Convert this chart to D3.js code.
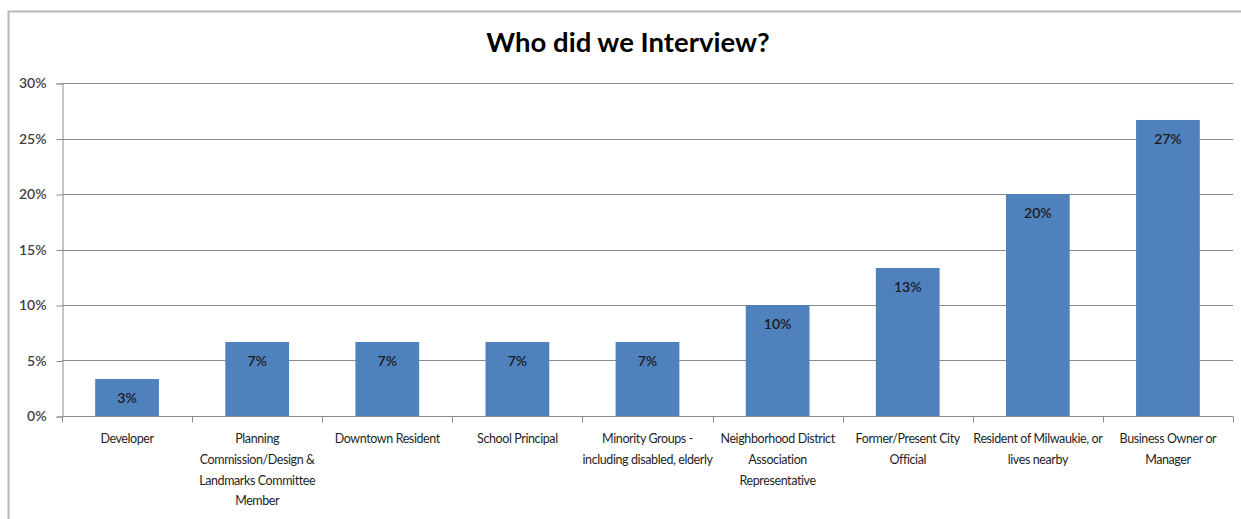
<!DOCTYPE html>
<html>
<head>
<meta charset="utf-8">
<script src="https://cdn.jsdelivr.net/npm/d3@7"></script>
<style>
  html, body { margin: 0; padding: 0; background: #ffffff; }
  svg { display: block; }
  text { font-family: Lato, "Liberation Sans", sans-serif; }
</style>
</head>
<body>
<svg id="chart" width="1241" height="519"></svg>
<script>
// Interviewee groups (line breaks mark how each axis label wraps)
const categories = [
  "Developer",
  "Planning\nCommission/Design &\nLandmarks Committee\nMember",
  "Downtown Resident",
  "School Principal",
  "Minority Groups -\nincluding disabled, elderly",
  "Neighborhood District\nAssociation\nRepresentative",
  "Former/Present City\nOfficial",
  "Resident of Milwaukie, or\nlives nearby",
  "Business Owner or\nManager"
];
// Share of interviews in each group
const shares = [0.0333, 0.0667, 0.0667, 0.0667, 0.0667, 0.10, 0.1333, 0.20, 0.2667];
const yTicks = [0, 0.05, 0.10, 0.15, 0.20, 0.25, 0.30];
const title = "Who did we Interview?";

const svg = d3.select("#chart");
const W = 1241, H = 519;
const plot = { left: 62, right: 1233, top: 83, bottom: 416 };

// outer chart frame (runs off the right and bottom edges)
svg.append("rect")
  .attr("x", 8.5).attr("y", 11.5)
  .attr("width", W).attr("height", H)
  .attr("fill", "none")
  .attr("stroke", "#b8b8b8")
  .attr("stroke-width", 2);

const x = d3.scaleBand()
  .domain(categories)
  .range([plot.left, plot.right])
  .paddingInner(0.51)
  .paddingOuter(0.255);

const xOuter = d3.scaleBand()
  .domain(categories)
  .range([plot.left, plot.right]);

const y = d3.scaleLinear()
  .domain([0, 0.30])
  .range([plot.bottom, plot.top]);

// horizontal gridlines
svg.append("g")
  .selectAll("line")
  .data(yTicks.filter(d => d > 0))
  .join("line")
  .attr("x1", plot.left).attr("x2", plot.right)
  .attr("y1", d => Math.round(y(d)) + 0.5)
  .attr("y2", d => Math.round(y(d)) + 0.5)
  .attr("stroke", "#8c8c8c")
  .attr("stroke-width", 1);

// y axis
const yAxis = svg.append("g")
  .attr("transform", `translate(${plot.left + 0.5},0.5)`)
  .call(d3.axisLeft(y).tickValues(yTicks).tickFormat(d3.format(".0%")).tickSize(6).tickPadding(10));
yAxis.select(".domain").attr("stroke", "#8c8c8c");
yAxis.selectAll(".tick line").attr("stroke", "#8c8c8c");
yAxis.selectAll(".tick text")
  .attr("fill", "#404040")
  .attr("font-size", 14)
  .attr("font-weight", 600)
  .style("font-family", "Lato, 'Liberation Sans', sans-serif");

// bars
svg.append("g")
  .selectAll("rect")
  .data(categories)
  .join("rect")
  .attr("x", d => x(d))
  .attr("width", x.bandwidth())
  .attr("y", (d, i) => y(shares[i]))
  .attr("height", (d, i) => y(0) - y(shares[i]))
  .attr("fill", "#4f81bd");

// value labels inside the bar tops
const pct = d3.format(".0%");
svg.append("g")
  .selectAll("text")
  .data(categories)
  .join("text")
  .attr("x", d => x(d) + x.bandwidth() / 2)
  .attr("y", (d, i) => y(shares[i]) + 24)
  .attr("text-anchor", "middle")
  .attr("font-size", 14)
  .attr("font-weight", 600)
  .attr("fill", "#1a1a1a")
  .text((d, i) => pct(shares[i]));

// x axis with ticks at category boundaries
const xAxisG = svg.append("g")
  .attr("transform", `translate(0,${plot.bottom + 0.5})`);
xAxisG.append("line")
  .attr("x1", plot.left).attr("x2", plot.right)
  .attr("stroke", "#8c8c8c");
const bounds = categories.map(d => xOuter(d)).concat([plot.right]);
xAxisG.selectAll("line.tk")
  .data(bounds)
  .join("line")
  .attr("class", "tk")
  .attr("x1", d => Math.round(d) + 0.5).attr("x2", d => Math.round(d) + 0.5)
  .attr("y1", 0).attr("y2", 6)
  .attr("stroke", "#8c8c8c");

// category labels
const lab = svg.append("g")
  .selectAll("text")
  .data(categories)
  .join("text")
  .attr("x", d => xOuter(d) + xOuter.bandwidth() / 2)
  .attr("y", plot.bottom + 27)
  .attr("text-anchor", "middle")
  .attr("font-size", 12.5)
  .attr("fill", "#1f1f1f")
  .attr("letter-spacing", -0.4);
lab.selectAll("tspan")
  .data(d => d.split("\n"))
  .join("tspan")
  .attr("x", function () { return this.parentNode.getAttribute("x"); })
  .attr("dy", (d, i) => i === 0 ? 0 : 20.8)
  .text(d => d);

// title
svg.append("text")
  .attr("x", 628)
  .attr("y", 52)
  .attr("text-anchor", "middle")
  .attr("font-size", 27.5)
  .attr("font-weight", 700)
  .attr("fill", "#000")
  .text(title);
</script>
</body>
</html>
